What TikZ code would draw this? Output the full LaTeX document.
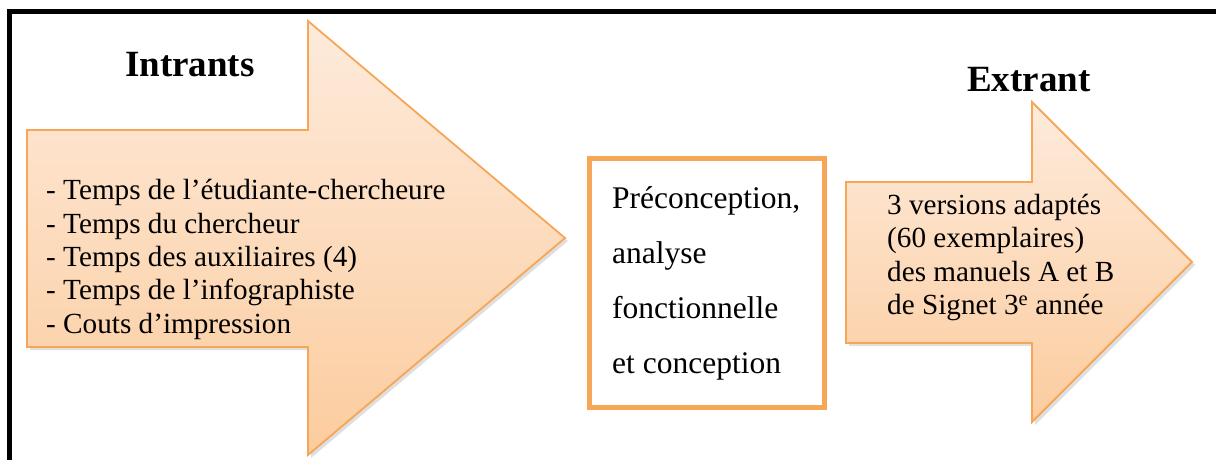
\documentclass[tikz,border=0pt]{standalone}
\usepackage{fontspec}
\setmainfont{Liberation Serif}
\usetikzlibrary{shadows}
\definecolor{arrowline}{RGB}{247,166,88}
\definecolor{fillTop}{RGB}{253,235,220}
\definecolor{fillBot}{RGB}{252,204,158}
\tikzset{
  bigarrow/.style={draw=arrowline, line width=1.8pt, line join=miter,
    top color=fillTop, bottom color=fillBot,
    drop shadow={opacity=0.25, shadow xshift=3pt, shadow yshift=-3pt}},
  procbox/.style={draw=arrowline, line width=5pt, fill=white},
  title/.style={font=\fontsize{37}{40}\selectfont\bfseries, inner sep=0pt, anchor=base west},
  listtext/.style={font=\fontsize{29.2}{33.3}\selectfont, align=left, inner sep=0pt, anchor=base west},
  boxtext/.style={font=\fontsize{31.5}{55}\selectfont, align=left, inner sep=0pt, anchor=base west}
}
\begin{document}
\begin{tikzpicture}[x=1pt,y=-1pt]
\useasboundingbox (0,0) rectangle (1216,460);
\clip (0,0) rectangle (1216,460);
% frame
\draw[line width=5pt] (9.5,480) -- (9.5,11.5) -- (1240,11.5);
% input arrow
\path[bigarrow] (27,130) -- (308,130) -- (308,21) -- (565,238) -- (308,455) -- (308,347) -- (27,347) -- cycle;
% output arrow
\path[bigarrow] (846,182) -- (1032,182) -- (1032,102) -- (1192,262) -- (1032,422) -- (1032,343) -- (846,343) -- cycle;
% process box
\draw[procbox] (589.5,158.5) rectangle (824.5,407.5);
% titles
\node[title] (intrants) at (125,77) {Intrants};
\node[title] (extrant) at (967,92) {Extrant};
% texts (anchored on the baseline of their last line)
\node[listtext] (inputs) at (46,333) {- Temps de l’étudiante-chercheure\\- Temps du chercheur\\- Temps des auxiliaires (4)\\- Temps de l’infographiste\\- Couts d’impression};
\node[boxtext] (process) at (612,373) {Préconception,\\analyse\\fonctionnelle\\et conception};
\node[listtext] (outputs) at (887,314.5) {3 versions adaptés\\(60 exemplaires)\\des manuels A et B\\de Signet 3\textsuperscript{e} année};
\end{tikzpicture}
\end{document}
